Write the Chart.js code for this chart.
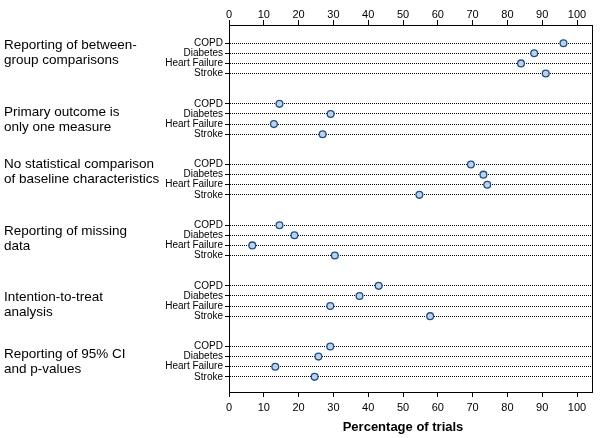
<!DOCTYPE html>
<html>
<head>
<meta charset="utf-8">
<script src="https://cdn.jsdelivr.net/npm/chart.js@4/dist/chart.umd.min.js"></script>
<style>
  body { margin: 0; background: #fff; }
  canvas { display: block; }
</style>
</head>
<body>
<canvas id="dotChart" width="600" height="438"></canvas>
<script>
// data (percentage of trials)
const diseases = ['COPD', 'Diabetes', 'Heart Failure', 'Stroke'];
const measures = [
    ['Reporting of between-', 'group comparisons'],
    ['Primary outcome is', 'only one measure'],
    ['No statistical comparison', 'of baseline characteristics'],
    ['Reporting of missing', 'data'],
    ['Intention-to-treat', 'analysis'],
    ['Reporting of 95% CI', 'and p-values']
];
const copd = [96.1, 14.5, 69.5, 14.5, 43.0, 29.1];
const diabetes = [87.7, 29.2, 73.1, 18.8, 37.5, 25.7];
const heartFailure = [83.9, 12.9, 74.2, 6.7, 29.1, 13.3];
const stroke = [91.0, 26.9, 54.7, 30.4, 57.8, 24.6];
const xTicks = [0, 10, 20, 30, 40, 50, 60, 70, 80, 90, 100];

const FONT = 'Liberation Sans, Arial, sans-serif';
const series = [copd, diabetes, heartFailure, stroke];

// each measure takes 6 rows: 4 diseases + 2 blank
const rowValues = [];
const rowLabels = {};
measures.forEach((m, g) => {
    diseases.forEach((d, r) => {
        rowValues.push(g * 6 + r);
        rowLabels[g * 6 + r] = d;
    });
});

const datasets = series.map((vals, r) => ({
    label: diseases[r],
    data: vals.map((v, g) => ({ x: v, y: g * 6 + r })),
    pointRadius: 3.4,
    pointBorderWidth: 1.3,
    pointBorderColor: '#1f4e85',
    pointBackgroundColor: '#bcd3e8',
    showLine: false
}));

// where the two-line measure labels sit, in row units below the COPD row
const labelShift = [0.6, 1.2, 0.3, 1.0, 1.45, 1.15];

const sideLabels = {
    id: 'sideLabels',
    afterDraw(chart) {
        const ctx = chart.ctx;
        const y = chart.scales.y;
        const x = chart.scales.x;
        ctx.save();
        ctx.fillStyle = '#000';
        ctx.font = '13.5px ' + FONT;
        ctx.textAlign = 'left';
        ctx.textBaseline = 'alphabetic';
        measures.forEach((lines, g) => {
            const base = y.getPixelForValue(g * 6 + labelShift[g]);
            lines.forEach((t, i) => ctx.fillText(t, 4, base + i * 15));
        });
        ctx.font = 'bold 13px ' + FONT;
        ctx.textAlign = 'center';
        ctx.fillText('Percentage of trials', x.getPixelForValue(50), 431);
        ctx.restore();
    }
};

const xAxis = (pos, h) => ({
    type: 'linear',
    position: pos,
    min: 0,
    max: 104.3,
    afterBuildTicks: s => { s.ticks = xTicks.map(v => ({ value: v })); },
    afterFit: s => { s.height = h; },
    ticks: {
        color: '#000',
        font: { family: FONT, size: 11 },
        padding: pos === 'top' ? -2 : 4,
        maxRotation: 0,
        autoSkip: false
    },
    grid: { drawOnChartArea: false, drawTicks: true, tickLength: 5, color: '#000', tickColor: '#000' },
    border: { display: true, color: '#000', width: 1 }
});

new Chart(document.getElementById('dotChart'), {
    type: 'scatter',
    data: { datasets: datasets },
    plugins: [sideLabels],
    options: {
        responsive: false,
        animation: false,
        layout: { padding: { left: 0, right: 8, top: 0, bottom: 0 } },
        plugins: { legend: { display: false }, tooltip: { enabled: false } },
        scales: {
            x: xAxis('bottom', 46),
            x2: xAxis('top', 25),
            y: {
                type: 'linear',
                reverse: true,
                min: -1.8,
                max: 34.5,
                afterBuildTicks: s => { s.ticks = rowValues.map(v => ({ value: v })); },
                afterFit: s => { s.width = 229; },
                ticks: {
                    autoSkip: false,
                    color: '#000',
                    padding: 2,
                    font: { family: FONT, size: 10 },
                    callback: v => rowLabels[v]
                },
                grid: {
                    color: '#000',
                    lineWidth: 1,
                    tickLength: 4,
                    tickColor: '#000',
                    tickBorderDash: []
                },
                border: { display: true, color: '#000', width: 1, dash: [1, 1] }
            },
            y2: {
                type: 'linear',
                position: 'right',
                min: 0,
                max: 1,
                afterFit: s => { s.width = 0; },
                ticks: { display: false },
                grid: { display: false },
                border: { display: true, color: '#000', width: 1 }
            }
        }
    }
});
</script>
</body>
</html>
